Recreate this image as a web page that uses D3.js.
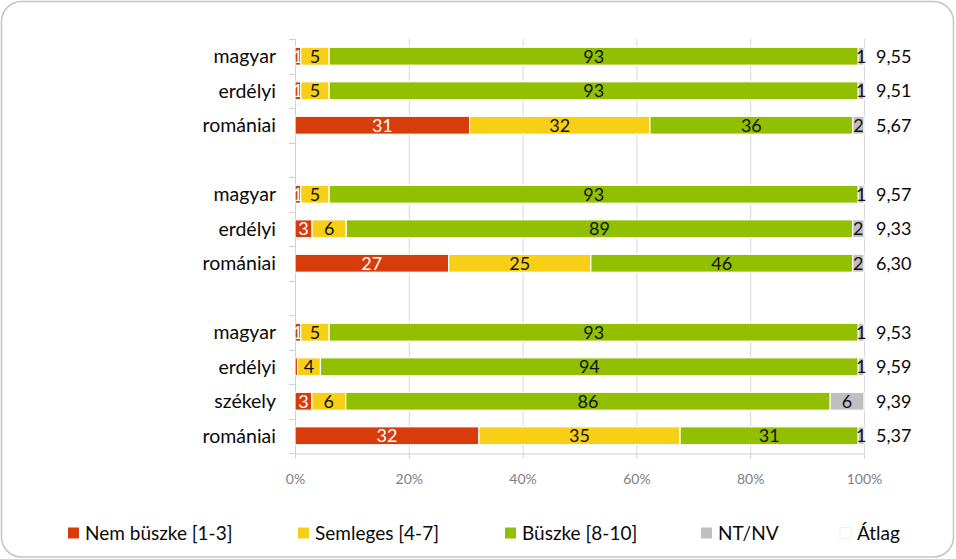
<!DOCTYPE html>
<html>
<head>
<meta charset="utf-8">
<script src="https://cdn.jsdelivr.net/npm/d3@7"></script>
<style>
  html, body { margin: 0; padding: 0; background: #fff; }
  svg { display: block; font-family: Lato, "Open Sans", sans-serif; }
</style>
</head>
<body>
<div id="chart"></div>
<script>
// ---- Data ----
const categories = ["magyar", "erdélyi", "romániai", "", "magyar", "erdélyi", "romániai", "", "magyar", "erdélyi", "székely", "romániai"];
const nemBuszke  = [1, 1, 31, null, 1, 3, 27, null, 1, 0.45, 3, 32];
const semleges   = [5, 5, 32, null, 5, 6, 25, null, 5, 4, 6, 35];
const buszke     = [93, 93, 36, null, 93, 89, 46, null, 93, 94, 86, 31];
const ntnv       = [1, 1, 2, null, 1, 2, 2, null, 1, 1, 6, 1];
const atlag      = ["9,55", "9,51", "5,67", "", "9,57", "9,33", "6,30", "", "9,53", "9,59", "9,39", "5,37"];
const legendNames = ["Nem büszke [1-3]", "Semleges [4-7]", "Büszke [8-10]", "NT/NV", "Átlag"];
const tickValues = [0, 0.2, 0.4, 0.6, 0.8, 1];

const colors = ["#d83c0b", "#f7cf16", "#92c000", "#bfbfbf"];
const labelColors = ["#ffffff", "#111111", "#111111", "#111111"];

const W = 956, H = 559;
const svg = d3.select("#chart").append("svg").attr("width", W).attr("height", H);

// frame
svg.append("rect").attr("x", 1.5).attr("y", 1.5).attr("width", W - 4).attr("height", H - 3.5)
  .attr("rx", 20).attr("ry", 20).attr("fill", "#fff").attr("stroke", "#c4c4c4").attr("stroke-width", 1.5);

const x = d3.scaleLinear().domain([0, 1]).range([295, 864]);
const y = d3.scaleBand().domain(d3.range(categories.length)).range([39, 453])
  .paddingInner(0.48).paddingOuter(0.24);

// table
const rows = categories.map((c, i) => ({
  idx: i, cat: c,
  s0: nemBuszke[i] || 0, s1: semleges[i] || 0, s2: buszke[i] || 0, s3: ntnv[i] || 0,
  blank: nemBuszke[i] == null
}));
const keys = ["s0", "s1", "s2", "s3"];
const stacked = d3.stack().keys(keys).offset(d3.stackOffsetExpand)(rows.filter(r => !r.blank));

// gridlines
svg.append("g").selectAll("line").data(tickValues).join("line")
  .attr("x1", d => x(d) + 0.5).attr("x2", d => x(d) + 0.5)
  .attr("y1", 39).attr("y2", 453)
  .attr("stroke", "#d9d9d9").attr("stroke-width", 1);

// left axis line and ticks at band boundaries
const boundaries = d3.range(categories.length + 1).map(i => 39 + i * y.step());
const ax = svg.append("g").attr("stroke", "#d0d0d0");
ax.append("line").attr("x1", x(0) + 0.5).attr("x2", x(0) + 0.5).attr("y1", 39).attr("y2", 453.5);
ax.selectAll(".yt").data(boundaries).join("line").attr("class", "yt")
  .attr("x1", x(0) - 6).attr("x2", x(0)).attr("y1", d => Math.round(d) + 0.5).attr("y2", d => Math.round(d) + 0.5);

// bottom axis
const xAxis = d3.axisBottom(x).tickValues(tickValues).tickFormat(d3.format(".0%")).tickSize(5).tickPadding(16);
const gx = svg.append("g").attr("transform", "translate(0,453.5)").call(xAxis);
gx.select(".domain").attr("stroke", "#d0d0d0");
gx.selectAll(".tick line").attr("stroke", "#d0d0d0");
gx.selectAll(".tick text").attr("fill", "#7f7f7f").style("font-size", "14px").style("font-family", "Lato, sans-serif");

// bars
const gBars = svg.append("g");
stacked.forEach((layer, k) => {
  gBars.append("g").selectAll("rect").data(layer).join("rect")
    .attr("x", d => x(d[0]))
    .attr("y", d => y(d.data.idx))
    .attr("width", d => Math.max(0, x(d[1]) - x(d[0])))
    .attr("height", y.bandwidth())
    .attr("fill", colors[k])
    .attr("stroke", "#fff").attr("stroke-width", 1.2);
});
// labels
stacked.forEach((layer, k) => {
  gBars.append("g").selectAll("text").data(layer.filter(d => d.data[keys[k]] >= 0.5)).join("text")
    .attr("x", d => (x(d[0]) + x(d[1])) / 2)
    .attr("y", d => y(d.data.idx) + y.bandwidth() / 2)
    .attr("dy", "0.36em")
    .attr("text-anchor", "middle")
    .attr("fill", labelColors[k])
    .style("font-size", "18px")
    .text(d => d3.format(".0f")(d.data[keys[k]]));
});

// category labels
svg.append("g").selectAll("text").data(rows).join("text")
  .attr("x", 276).attr("y", d => y(d.idx) + y.bandwidth() / 2).attr("dy", "0.36em")
  .attr("text-anchor", "end").attr("fill", "#0a0a0a").style("font-size", "19.5px")
  .text(d => d.cat);

// average values
svg.append("g").selectAll("text").data(rows).join("text")
  .attr("x", 876).attr("y", d => y(d.idx) + y.bandwidth() / 2).attr("dy", "0.36em")
  .attr("text-anchor", "start").attr("fill", "#0a0a0a").style("font-size", "18px")
  .text(d => atlag[d.idx]);

// legend
const legendX = [68, 298, 505, 701, 840];
const legColors = colors.concat(["#ffffff"]);
const lg = svg.append("g").selectAll("g").data(legendNames).join("g")
  .attr("transform", (d, i) => `translate(${legendX[i]},533)`);
lg.append("rect").attr("x", 0).attr("y", -5.5).attr("width", 11).attr("height", 11)
  .attr("fill", (d, i) => legColors[i])
  .attr("stroke", (d, i) => i === 4 ? "#f0f0f0" : "none");
lg.append("text").attr("x", 17).attr("dy", "0.36em").attr("fill", "#0a0a0a").style("font-size", "19px").text(d => d);
</script>
</body>
</html>
